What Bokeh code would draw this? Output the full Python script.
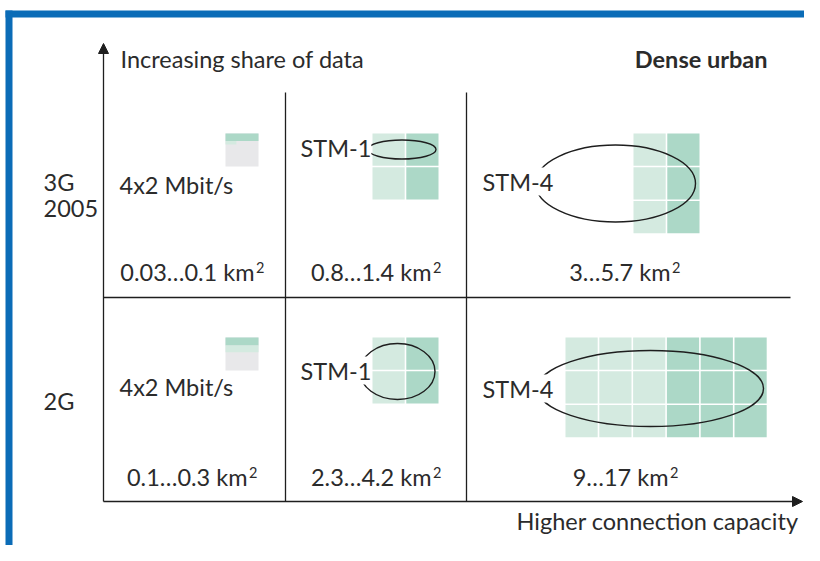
from bokeh.plotting import figure
from bokeh.models import Range1d, Arrow, NormalHead
from bokeh.core.properties import value
from bokeh.embed import file_html
from bokeh.resources import INLINE

# ---------------- data ----------------
row_labels = [["3G", "2005"], ["2G"]]
capacity_labels = ["4x2 Mbit/s", "STM-1", "STM-4"]
area_labels_3g = ["0.03\u20260.1 km", "0.8\u20261.4 km", "3\u20265.7 km"]
area_labels_2g = ["0.1\u20260.3 km", "2.3\u20264.2 km", "9\u202617 km"]
area_unit_power = "2"
# module grids for STM-1 / STM-4: columns, rows, light columns
grid_cols_3g = [2, 2]
grid_rows_3g = [2, 3]
light_cols_3g = [1, 1]
grid_cols_2g = [2, 6]
grid_rows_2g = [2, 3]
light_cols_2g = [1, 3]
# 4x2 Mbit/s icon: share of capacity (dark band, light band, light band width)
icon_dark_share = [0.23, 0.24]
icon_light_share = [0.10, 0.21]
icon_light_width = [0.33, 1.0]

axis_title_y = "Increasing share of data"
axis_title_x = "Higher connection capacity"
corner_title = "Dense urban"

# ---------------- layout ----------------
W, H = 804, 545
FONT = value("Lato")
TXT = "#2b2b2b"
LINE = "#1e1e1e"
LIGHT = "#d4eae0"
DARK = "#acd8c7"
GREY = "#e8e8ea"
BLUE = "#0b6cb7"

col_edges = [103, 285, 466, 790]
row_top = [92, 297]
row_bottom = [297, 501]
grid_y0 = [133, 337]
grid_x0 = [[372, 633], [372, 565]]
pitch = 33.8
gap = 1.6
ellipses = [[(401.5, 149, 68, 19), (615, 183, 160, 77)],
            [(397, 371, 75, 56), (650, 388, 226, 76)]]
stm_text_y = [[147, 181], [370, 388]]
cap_text_y = [184, 386]
area_y = [271, 476]
area_end_x = [[254, 431, 670], [247, 431, 668]]
row_label_y = [[181, 208], [400]]

p = figure(width=W, height=H, x_range=Range1d(0, W), y_range=Range1d(H, 0),
           output_backend="svg", toolbar_location=None,
           x_axis_type=None, y_axis_type=None, min_border=0)
p.grid.visible = False
p.outline_line_color = None
p.background_fill_color = "white"
p.border_fill_color = "white"

# blue frame
p.quad(left=[5, 5], right=[W, 12], top=[10, 10], bottom=[17, H],
       fill_color=BLUE, line_color=None)

# grid modules
L, R, T, B, C = [], [], [], [], []
for r, (gc, gr, lc) in enumerate([(grid_cols_3g, grid_rows_3g, light_cols_3g),
                                  (grid_cols_2g, grid_rows_2g, light_cols_2g)]):
    for k in range(2):
        for i in range(gc[k]):
            for j in range(gr[k]):
                x0 = grid_x0[r][k] + i * pitch
                y0 = grid_y0[r] + j * pitch
                L.append(x0); R.append(x0 + pitch - gap)
                T.append(y0); B.append(y0 + pitch - gap)
                C.append(LIGHT if i < lc[k] else DARK)
p.quad(left=L, right=R, top=T, bottom=B, fill_color=C, line_color=None)

# 4x2 Mbit/s icons
icon_x0, icon_size = 225, 33
iL, iR, iT, iB, iC = [], [], [], [], []
for r in range(2):
    y0 = grid_y0[r]
    iL.append(icon_x0); iR.append(icon_x0 + icon_size); iT.append(y0); iB.append(y0 + icon_size); iC.append(GREY)
    yd = y0 + icon_dark_share[r] * icon_size
    iL.append(icon_x0); iR.append(icon_x0 + icon_size); iT.append(y0); iB.append(yd); iC.append(DARK)
    iL.append(icon_x0); iR.append(icon_x0 + icon_light_width[r] * icon_size); iT.append(yd)
    iB.append(yd + icon_light_share[r] * icon_size); iC.append(LIGHT)
p.quad(left=iL, right=iR, top=iT, bottom=iB, fill_color=iC, line_color=None)

# ellipses
ex = [e[0] for row in ellipses for e in row]
ey = [e[1] for row in ellipses for e in row]
ew = [e[2] for row in ellipses for e in row]
eh = [e[3] for row in ellipses for e in row]
p.ellipse(x=ex, y=ey, width=ew, height=eh, fill_color=None, line_color=LINE, line_width=1.4)

# dividers
p.segment(x0=[col_edges[1], col_edges[2], col_edges[0]], y0=[row_top[0], row_top[0], row_bottom[0]],
          x1=[col_edges[1], col_edges[2], col_edges[3]], y1=[row_bottom[1], row_bottom[1], row_bottom[0]],
          line_color=LINE, line_width=1.3)

# axes with arrows
p.add_layout(Arrow(x_start=col_edges[0], y_start=row_bottom[1], x_end=col_edges[0], y_end=43,
                   line_color=LINE, line_width=1.3,
                   end=NormalHead(size=10, fill_color=LINE, line_color=LINE, line_width=1)))
p.add_layout(Arrow(x_start=col_edges[0], y_start=row_bottom[1], x_end=802, y_end=row_bottom[1],
                   line_color=LINE, line_width=1.3,
                   end=NormalHead(size=10, fill_color=LINE, line_color=LINE, line_width=1)))

FS = "23.5px"
def txt(x, y, t, align="left", style="normal", bg=None, size=FS, baseline="middle"):
    p.text(x=x, y=y, text=t, text_align=align, text_baseline=baseline,
           text_font=FONT, text_font_size=size, text_color=TXT, text_font_style=style,
           background_fill_color=bg)

txt([120], [58], [axis_title_y])
txt([767], [58], [corner_title], align="right", style="bold")
txt([798], [520], [axis_title_x], align="right")

# row labels
rl_y = [y for row in row_label_y for y in row]
rl_t = [t for row in row_labels for t in row]
txt([43] * len(rl_t), rl_y, rl_t)

# capacity labels
txt([119, 119], cap_text_y, [capacity_labels[0]] * 2)
txt([300, 300], [stm_text_y[0][0], stm_text_y[1][0]], [capacity_labels[1]] * 2, bg="white")
txt([482, 482], [stm_text_y[0][1], stm_text_y[1][1]], [capacity_labels[2]] * 2, bg="white")

# area labels (km + superscript 2)
for r, labels in enumerate([area_labels_3g, area_labels_2g]):
    txt(area_end_x[r], [area_y[r]] * 3, labels, align="right")
    txt([x + 1.5 for x in area_end_x[r]], [area_y[r] - 4] * 3, [area_unit_power] * 3,
        size="14.5px")

open("out.html", "w").write(file_html(p, INLINE))
